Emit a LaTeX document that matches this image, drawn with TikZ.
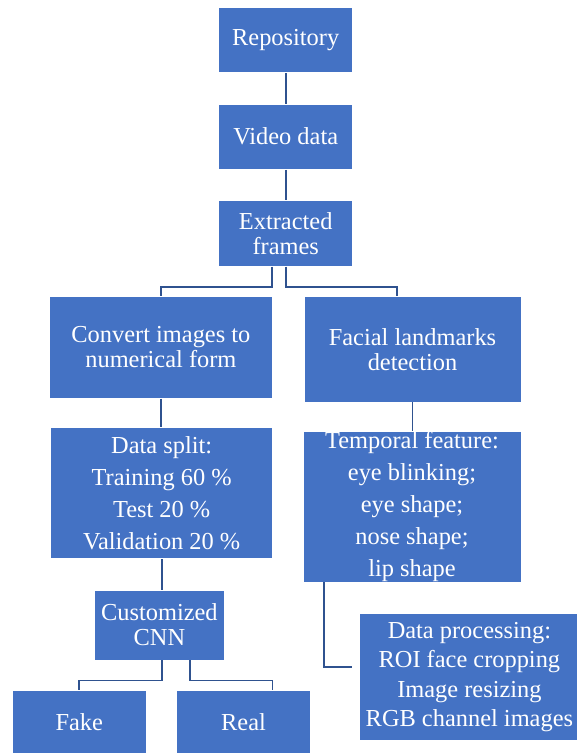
\documentclass[tikz,border=0pt]{standalone}
\usepackage{fontspec}
\setmainfont{Liberation Serif}
\definecolor{boxblue}{HTML}{4472C4}
\definecolor{linkblue}{HTML}{2F528F}

\begin{document}
\begin{tikzpicture}[x=1pt, y=-1pt,
  stage/.style={draw=white, line width=0.8pt, fill=boxblue, text=white, inner sep=0pt, align=center, font=\fontsize{24.4}{25}\selectfont},
  listbox/.style={stage, font=\fontsize{24.4}{32}\selectfont},
  link/.style={draw=linkblue, line width=1.8pt}]
  \clip (0,0) rectangle (577,753);
  % main column
  \node[stage, minimum width=134pt, minimum height=65.4pt] (repo) at (285.7,40) {Repository};
  \node[stage, minimum width=134pt, minimum height=65.3pt] (video) at (285.7,136.7) {Video data};
  \node[stage, minimum width=134pt, minimum height=65.6pt] (extr) at (285.7,233.5) {Extracted\\frames};
  % two branches
  \node[stage, minimum width=223.7pt, minimum height=102pt] (conv) at (160.9,347.3) {Convert images to\\numerical form};
  \node[stage, minimum width=217pt, minimum height=105.7pt] (facial) at (412.5,349.2) {Facial landmarks\\detection};
  \node[listbox, minimum width=222pt, minimum height=131pt] (split) at (161.7,493.2) {Data split:\\Training 60 \%\\Test 20 \%\\Validation 20 \%};
  \node[listbox, minimum width=218pt, minimum height=149.7pt] (temp) at (412,506.9) {Temporal feature:\\eye blinking;\\eye shape;\\nose shape;\\lip shape};
  \node[stage, minimum width=130pt, minimum height=70pt] (cnn) at (159.4,625) {Customized\\CNN};
  \node[stage, minimum width=133.5pt, minimum height=63pt] (fake) at (79.3,722.2) {Fake};
  \node[stage, minimum width=133.6pt, minimum height=63pt] (real) at (243.5,722.2) {Real};
  \node[listbox, font=\fontsize{24.4}{29.5}\selectfont, minimum width=221pt, minimum height=127.4pt] (dproc) at (469.4,677) {Data processing:\\ROI face cropping\\Image resizing\\RGB channel images};
  % connectors
  \draw[link] (repo) -- (video);
  \draw[link] (video) -- (extr);
  \draw[link] ([xshift=-13.5pt]extr.south) -- ++(0,20) -| (conv.north);
  \draw[link] (extr.south) -- ++(0,20) -| ([xshift=-15.8pt]facial.north);
  \draw[link] (conv.south) -- (conv.south |- split.north);
  \draw[link] (facial.south) -- (facial.south |- temp.north);
  \draw[link] (split.south) -- (split.south |- cnn.north);
  \draw[link] ([xshift=2.3pt]cnn.south) -- ++(0,20) -| (fake.north);
  \draw[link] ([xshift=30.6pt]cnn.south) -- ++(0,20) -| ([xshift=28.9pt]real.north);
  \draw[link, shorten >=7pt] ([xshift=-88pt]temp.south) |- ([yshift=10pt]dproc.west);
\end{tikzpicture}
\end{document}
